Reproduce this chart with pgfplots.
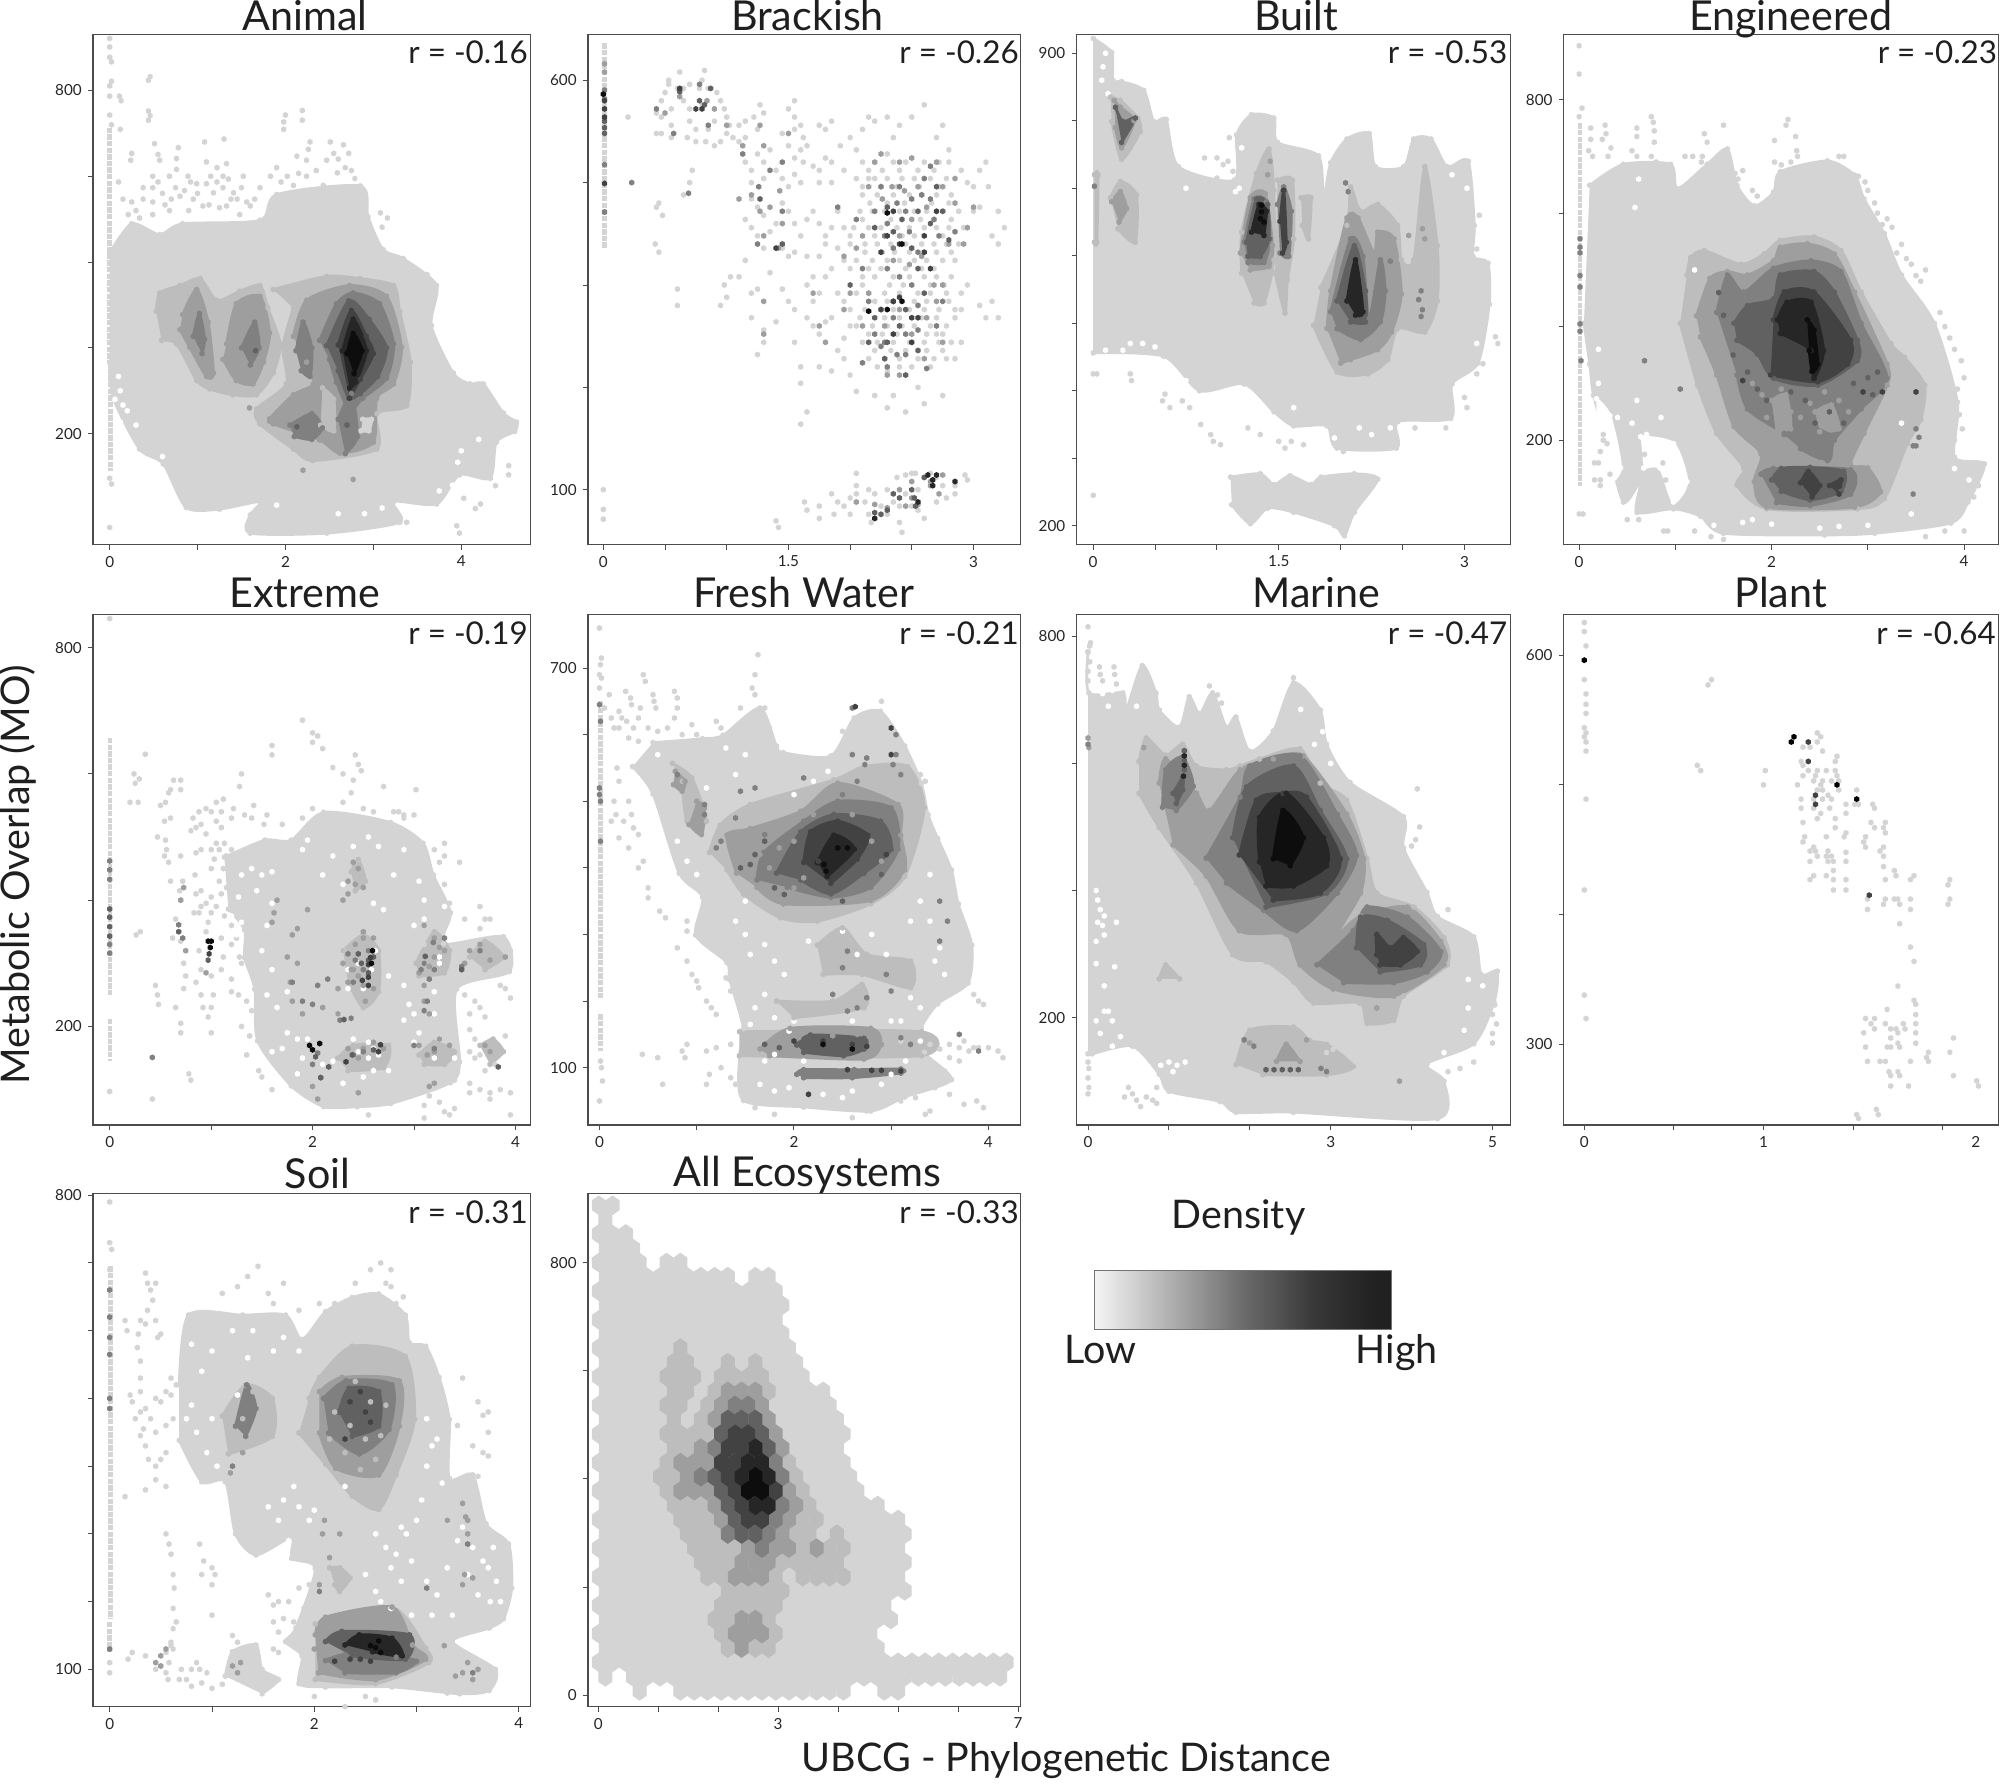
\documentclass[border=0pt]{standalone}
\usepackage{pgfplots}
\usepackage{fontspec}
\setmainfont{Lato}
\pgfplotsset{compat=1.18}
\definecolor{g1}{gray}{.83}
\definecolor{g2}{gray}{.74}
\definecolor{g3}{gray}{.62}
\definecolor{g4}{gray}{.50}
\definecolor{g5}{gray}{.38}
\definecolor{g6}{gray}{.26}
\definecolor{g7}{gray}{.15}
\definecolor{g8}{gray}{.05}
\definecolor{c0}{gray}{.96}
\definecolor{c1}{gray}{.64}
\definecolor{c2}{gray}{.42}
\definecolor{c3}{gray}{.22}
\definecolor{c4}{gray}{.13}
\pgfdeclarehorizontalshading{densbar}{100bp}{color(0bp)=(c0);color(25bp)=(c0);color(40bp)=(c1);color(50bp)=(c2);color(62bp)=(c3);color(72bp)=(c4);color(100bp)=(c4)}
\pgfdeclareplotmark{hex}{\pgfpathmoveto{\pgfqpoint{0pt}{1.15\pgfplotmarksize}}\pgfpathlineto{\pgfqpoint{\pgfplotmarksize}{.58\pgfplotmarksize}}\pgfpathlineto{\pgfqpoint{\pgfplotmarksize}{-.58\pgfplotmarksize}}\pgfpathlineto{\pgfqpoint{0pt}{-1.15\pgfplotmarksize}}\pgfpathlineto{\pgfqpoint{-\pgfplotmarksize}{-.58\pgfplotmarksize}}\pgfpathlineto{\pgfqpoint{-\pgfplotmarksize}{.58\pgfplotmarksize}}\pgfpathclose\pgfusepathqfill}
\pgfdeclareplotmark{hexb}{\pgfpathmoveto{\pgfqpoint{0pt}{1.4\pgfplotmarksize}}\pgfpathlineto{\pgfqpoint{\pgfplotmarksize}{.7\pgfplotmarksize}}\pgfpathlineto{\pgfqpoint{\pgfplotmarksize}{-.7\pgfplotmarksize}}\pgfpathlineto{\pgfqpoint{0pt}{-1.4\pgfplotmarksize}}\pgfpathlineto{\pgfqpoint{-\pgfplotmarksize}{-.7\pgfplotmarksize}}\pgfpathlineto{\pgfqpoint{-\pgfplotmarksize}{.7\pgfplotmarksize}}\pgfpathclose\pgfusepathqfill}
% blob: filled contour whose outline cells are hexagons; pts: single cells; stem: run of touching cells
\newcommand{\blob}[2]{\addplot[fill=#1,draw=#1,line width=1.5pt,line join=round,smooth,tension=.45,mark=none,forget plot] coordinates {#2};\addplot[only marks,mark=hex,color=#1,forget plot] coordinates {#2};}
\newcommand{\pts}[2]{\addplot[only marks,mark=hex,color=#1,forget plot] coordinates {#2};}
\newcommand{\ptb}[2]{\addplot[only marks,mark=hexb,color=#1,forget plot] coordinates {#2};}
\newcommand{\stem}[1]{\addplot[g1,line width=2.5pt,dash pattern=on 3pt off .7pt,mark=none,forget plot] coordinates {#1};}
\pgfplotsset{
  panel/.style={scale only axis,height=100mm,axis line style={draw=black!70,line width=.7pt},
    tick style={draw=black!70,line width=.5pt},major tick length=2.8pt,tick align=outside,
    xtick pos=left,ytick pos=left,minor tick num=0,
    tick label style={font=\fontsize{8.5}{10}\selectfont,text=black!85},
    /pgf/number format/assume math mode=true,anchor=south west,axis on top,
    every axis plot/.append style={mark size=1.45pt}}
}
\tikzset{ttl/.style={anchor=base,inner sep=0pt,font=\fontsize{23}{26}\selectfont,text=black!88},
 rl/.style={anchor=base east,inner sep=0pt,font=\fontsize{17.5}{21}\selectfont,text=black!88},
 big/.style={font=\fontsize{22}{25}\selectfont,text=black!88}}
\begin{document}
\begin{tikzpicture}[x=.25mm,y=.25mm]
\path[use as bounding box] (0,0) rectangle (1568,1398);
%% Animal
\begin{axis}[panel,at={(18.25mm,242.75mm)},width=85.75mm,xmin=-.189,xmax=4.79,ymin=6,ymax=898,
 xtick={0,1,2,3,4},xticklabels={0,,2,,4},ytick={200,350,500,650,800},yticklabels={200,,,,800}]
\stem{(0,735)(0,325)} \stem{(0.01,325)(0.01,135)}
\blob{g1}{(0,516)(.25,567)(.57,548)(.83,567)(1.71,573)(1.9,618)(2.85,633)(2.94,579)(3.11,522)(3.34,506)(3.72,459)(3.66,389)(3.91,306)(4.1,287)(4.25,287)(4.48,236)(4.63,220)(4.61,204)(4.4,185)(4.33,122)(3.98,128)(3.72,77)(3.23,81)(3.3,45)(2.47,26)(1.6,26)(1.6,58)(1.71,81)(1.25,68)(.87,71)(.61,147)(.34,173)(.04,262)(0,325)}
\pts{g1}{(0,891)(0,876)(0,858)(.02,850)(.02,816)(0,808)(0,790)(0,757)(.02,740)(.44,818)(.46,824)(.11,790)(.13,782)(.12,732)(.44,764)(.46,756)(.44,748)(1.08,710)(1.3,715)(2.19,765)(2.19,748)(2,757)(1.98,745)(1.98,732)(.25,690)(.24,678)(.51,707)(.55,688)(.57,678)(.78,700)(.76,681)(.76,662)(1.1,675)(1.22,665)(1.33,672)(1.29,650)(1.1,637)(.89,650)(.99,637)(.68,650)(.49,650)(.38,630)(.49,630)(.38,610)(.49,605)(.25,605)(.21,583)(.34,577)(.49,583)(.68,590)(.8,615)(.95,610)(1.06,598)(1.18,621)(1.29,630)(1.41,621)(1.52,650)(1.33,598)(1.48,583)(1.71,630)(1.6,598)(1.83,650)(2.02,650)(2.09,634)(2.24,678)(2.28,710)(2.26,697)(2.13,685)(2.24,650)(2.43,634)(2.51,710)(2.55,690)(2.66,705)(2.72,690)(2.47,678)(2.59,656)(2.79,646)(3.08,586)(3.16,577)(3.1,561)(3.61,478)(.1,640)(.15,610)(.3,590)(.6,620)(.7,610)(.9,590)(1.15,650)(1.35,645)(1.45,610)(4.54,144)(4.54,128)(4.16,69)(4.22,77)(3.95,39)(3.98,26)(3.38,45)(4.03,87)(4.39,109)(0,122)(.02,112)(0,36)(.55,640)(.63,600)(.75,630)(.85,625)(.92,640)(1.0,620)(1.13,600)(1.22,640)(1.25,595)(1.38,610)(1.5,630)(1.56,605)(1.65,610)(1.9,665)(1.95,640)(2.15,655)(2.35,660)(2.6,680)(2.68,665)(2.75,660)}
\pts{white}{(.1,300)(.12,275)(.06,260)(.15,250)(.2,240)(.12,220)(.3,215)(.4,130)(.5,135)(.6,160)(3.9,110)(4.05,120)(4.0,170)(3.75,100)(4.2,190)(3.96,150)(1.6,70)(1.9,75)(2.6,60)(2.9,60)(3.1,70)}
\blob{g2}{(.53,414)(.57,446)(.8,459)(1.03,471)(1.22,433)(1.48,449)(1.71,459)(1.8,420)(1.94,357)(1.86,306)(1.67,268)(1.4,268)(1.14,278)(.99,293)(.76,357)(.59,363)}
\blob{g2}{(1.86,452)(2.47,475)(2.85,471)(3.23,459)(3.3,414)(3.42,325)(3.38,249)(3.04,235)(3.04,173)(2.31,153)(2.09,173)(1.71,217)(1.67,243)(2.01,287)(1.97,351)(2.09,420)}
\blob{g3}{(.83,408)(.99,452)(1.12,395)(1.18,306)(1.1,300)(.91,351)(.8,382)}
\blob{g3}{(1.33,357)(1.44,427)(1.71,440)(1.82,376)(1.75,325)(1.63,287)(1.44,293)(1.29,330)}
\blob{g3}{(2.09,370)(2.24,433)(2.73,459)(3.15,440)(3.32,351)(3.23,287)(3.04,262)(3,185)(2.62,166)(2.39,189)(1.86,217)(1.82,226)(2.09,268)(2.32,287)(2.24,325)}
\blob{g2}{(2.42,280)(2.55,260)(2.55,205)(2.4,215)}
\blob{g1}{(2.88,225)(2.98,225)(2.95,205)(2.86,205)}
\blob{g4}{(2.39,363)(2.58,427)(2.77,446)(3.07,427)(3.23,357)(3.15,297)(2.88,262)(2.73,240)(2.58,290)(2.5,330)}
\blob{g4}{(1.5,350)(1.65,395)(1.7,350)(1.6,320)}
\blob{g4}{(.95,370)(1.02,410)(1.08,365)(1.05,340)}
\blob{g4}{(2.12,345)(2.2,395)(2.3,350)(2.28,300)(2.18,310)}
\blob{g4}{(2.05,215)(2.3,235)(2.42,210)(2.3,190)(2.1,195)}
\blob{g4}{(2.6,225)(2.75,270)(2.82,195)(2.68,165)}
\blob{g5}{(2.47,354)(2.72,432)(2.95,400)(3.15,350)(3.05,300)(2.85,270)(2.72,262)(2.6,310)}
\blob{g6}{(2.6,355)(2.75,415)(2.92,370)(3,340)(2.85,295)(2.73,262)}
\blob{g7}{(2.65,345)(2.77,400)(2.92,345)(2.8,290)(2.73,280)}
\blob{g8}{(2.7,340)(2.77,375)(2.87,345)(2.78,305)}
\pts{g5}{(2.13,212)(2.7,215)(1.66,345)}
\pts{g3}{(2.2,136)(2.77,120)(1.59,245)}
\end{axis}
%% Brackish
\begin{axis}[panel,at={(115.25mm,242.75mm)},width=84.75mm,xmin=-.124,xmax=3.38,ymin=33,ymax=656,
 xtick={0,.5,1,1.5,2,2.5,3},xticklabels={0,,,1.5,,,3},ytick={100,225,350,475,600},yticklabels={100,,,,600}]
\stem{(.01,645)(.01,395)}
\pts{g1}{(0,100)(0,76)(0,64)(.53,595)(.5,585)(.47,575)(.55,565)(.47,555)(.43,560)(.55,545)(.47,535)(.43,535)(.55,530)(.2,555)(.53,600)(.62,610)(.6,590)(.82,612)(.8,600)(.65,590)(.7,595)(.78,590)(.85,590)(.92,585)(.95,575)(.65,575)(.7,565)(.8,570)(.9,565)(.98,565)(1.0,555)(.7,550)(.75,540)(.85,540)(.9,550)(1.0,535)(1.05,530)(1.02,545)(.68,530)(.75,525)(.83,525)(.9,520)(.95,525)(1.1,545)(1.1,525)(1.15,530)(1.25,540)(1.22,555)(1.15,550)(1.3,560)(1.27,570)(1.55,575)(1.5,565)(1.55,555)(1.6,545)(1.55,540)(1.62,530)(1.45,535)(1.5,520)(1.55,505)(1.62,500)(1.75,545)(1.85,550)(1.8,540)(1.65,520)(1.6,515)(1.35,515)(1.25,510)(1.3,500)(1.2,490)(1.15,500)(1.2,475)(1.3,480)(1.4,490)(1.45,480)(1.5,470)(1.55,485)(1.6,475)(1.7,495)(1.75,490)(1.8,505)(1.85,500)(1.75,475)(1.85,475)(1.95,490)(1.92,520)(2.0,530)(2.05,515)(2.1,540)(2.15,555)(2.2,550)(2.3,555)(2.4,545)(2.5,555)(2.6,570)(2.7,530)(2.8,515)(2.75,545)(2.8,500)(2.9,490)(2.95,475)(3.0,470)(3.05,445)(3.0,440)(3.1,500)(3.05,490)(3.12,470)(3.2,440)(3.25,420)(3.2,400)(3.15,410)(1.2,455)(1.25,445)(1.3,435)(1.15,430)(1.2,420)(1.25,410)(1.3,395)(1.35,415)(1.4,425)(1.45,450)(1.5,440)(1.55,425)(1.6,410)(1.65,430)(1.7,440)(1.75,425)(1.8,410)(1.55,390)(1.65,385)(1.75,385)(1.8,400)(1.9,440)(1.95,420)(1.85,420)(2.0,410)(1.9,395)(1.95,380)(2.0,370)(1.85,370)(1.8,360)(1.7,360)(1.65,350)(1.75,340)(1.7,330)(1.65,310)(1.7,300)(1.8,305)(1.75,290)(1.9,340)(1.95,330)(1.85,310)(2.0,300)(1.95,285)(1.9,270)(1.95,260)(1.75,250)(1.85,245)(2.0,240)(1.5,385)(1.45,395)(1.35,365)(1.25,345)(1.2,340)(1.15,380)(1.1,360)(1.2,310)(1.3,280)(1.25,265)(1.3,295)(1.4,305)(1.5,330)(1.45,345)(1.55,320)(1.55,280)(1.6,250)(1.6,230)(2.05,220)(2.2,215)(2.3,200)(2.35,215)(2.45,195)(2.55,225)(2.6,205)(2.75,215)(2.85,260)(2.9,280)(2.75,290)(2.85,310)(2.95,350)(2.9,320)(3.05,325)(3.15,330)(3.2,310)(3.1,310)(2.4,250)(2.3,245)(.7,475)(.65,460)(.72,490)(.45,450)(.43,445)(.48,435)(.42,400)(.45,390)(.6,345)(.6,325)(.98,350)(1.0,335)(.95,325)(1.03,360)(2.2,480)(2.3,510)(2.35,530)(1.65,195)(1.6,180)}
\pts{g1}{(1.4,62)(1.42,54)(1.63,85)(1.65,75)(1.75,80)(1.75,65)(1.85,95)(1.9,85)(1.87,70)(1.95,80)(2.0,70)(2.0,90)(2.05,105)(2.05,95)(2.12,85)(2.15,70)(2.2,65)(2.2,95)(2.17,60)(2.3,70)(2.35,85)(2.4,80)(2.25,80)(2.3,100)(2.38,115)(2.45,95)(2.55,75)(2.6,65)(2.5,80)(2.55,100)(2.6,115)(2.65,120)(2.7,115)(2.75,105)(2.7,85)(2.78,90)(2.85,105)(2.85,95)(2.93,118)(2.95,112)(2.05,120)(2.15,100)(2.45,118)(2.4,60)(2.42,48)(2.5,120)(2.53,120)}
\pts{g1}{(2.1,500)(2.2,500)(2.35,500)(2.45,500)(2.6,500)(2.72,500)(2.05,480)(2.15,480)(2.3,480)(2.42,480)(2.52,480)(2.65,480)(2.78,480)(2.1,460)(2.22,460)(2.35,460)(2.48,460)(2.58,460)(2.7,460)(2.82,460)(2.08,440)(2.18,440)(2.28,440)(2.4,440)(2.52,440)(2.62,440)(2.75,440)(2.88,440)(2.03,420)(2.15,420)(2.25,420)(2.38,420)(2.48,420)(2.6,420)(2.7,420)(2.8,420)(2.92,420)(2,400)(2.12,400)(2.22,400)(2.33,400)(2.45,400)(2.58,400)(2.68,400)(2.78,400)(2.88,400)(2.05,380)(2.18,380)(2.3,380)(2.4,380)(2.52,380)(2.62,380)(2.75,380)(2.85,380)(2.1,360)(2.2,360)(2.35,360)(2.48,360)(2.6,360)(2.7,360)(2.82,360)(2.05,340)(2.15,340)(2.28,340)(2.4,340)(2.55,340)(2.65,340)(2.78,340)(2.9,340)(2,320)(2.12,320)(2.25,320)(2.35,320)(2.48,320)(2.6,320)(2.72,320)(2.85,320)(2.05,300)(2.18,300)(2.3,300)(2.42,300)(2.52,300)(2.65,300)(2.78,300)(2.1,280)(2.22,280)(2.35,280)(2.48,280)(2.6,280)(2.72,280)(2.82,280)(2.15,260)(2.28,260)(2.4,260)(2.55,260)(2.68,260)(2.78,260)(2.15,490)(2.26,490)(2.4,490)(2.55,490)(2.68,490)(2.1,470)(2.25,470)(2.38,470)(2.56,470)(2.72,470)(2.16,450)(2.3,450)(2.44,450)(2.66,450)(2.8,450)(2.1,430)(2.33,430)(2.57,430)(2.68,430)(2.82,430)(2.2,410)(2.28,410)(2.42,410)(2.52,410)(2.75,410)(2.12,390)(2.26,390)(2.36,390)(2.48,390)(2.7,390)(2.82,390)(2.15,370)(2.25,370)(2.45,370)(2.58,370)(2.68,370)(2.1,350)(2.32,350)(2.43,350)(2.65,350)(2.76,350)(2.2,330)(2.3,330)(2.52,330)(2.62,330)(2.8,330)(2.08,310)(2.28,310)(2.4,310)(2.58,310)(2.7,310)(2.15,290)(2.26,290)(2.38,290)(2.62,290)(2.7,290)(2.2,270)(2.33,270)(2.45,270)(2.62,270)(2.75,270)(2.22,250)(2.5,250)(2.65,250)}
\pts{g3}{(.01,620)(.01,610)(.62,580)(.5,560)(.84,575)(.9,565)(1.0,545)(1.13,520)(1.27,545)(1.3,520)(1.5,535)(1.1,455)(1.2,460)(1.27,440)(1.35,445)(1.3,410)(1.43,465)(1.45,425)(1.42,395)(1.95,385)(2.0,340)(2.05,395)(2.1,410)(2.15,470)(2.2,500)(2.25,510)(2.4,500)(2.5,505)(2.7,500)(2.75,470)(2.85,480)(2.85,450)(3,445)(2.95,420)(2.92,400)(2.8,400)(2.75,350)(2.7,330)(2.75,280)(2.15,340)(2.1,300)(2.6,260)(2.4,240)(2.3,240)(1.3,290)(1.3,330)(1.95,320)(1.7,340)(1.75,300)(1.8,280)(2.26,455)(2.34,470)(2.44,465)(2.55,470)(2.62,445)(2.4,410)(2.5,430)(2.35,380)(2.48,375)(2.58,385)(2.68,350)(2.28,300)(2.4,320)(2.5,290)(2.62,310)}
\pts{g4}{(.01,588)(.01,577)(.01,497)(.01,439)(.23,475)(.69,462)(.43,565)(.78,595)(.85,545)(.57,535)(1.13,510)(1.26,470)(1.35,490)(1.45,500)(1.45,440)(1.25,400)(1.9,445)(2.05,430)(2.2,440)(2.25,470)(2.3,425)(2.4,470)(2.5,455)(2.6,480)(2.65,495)(2.65,455)(2.72,410)(2.55,390)(2.45,440)(2.35,395)(2.3,370)(2.15,330)(2.2,290)(2.35,310)(2.45,290)(2.5,350)(2.55,325)(2.7,300)(2.75,330)(2.85,415)(2.3,250)(2.45,265)(2.62,248)(2.1,255)(2.25,275)(2.1,370)(2.28,410)(2.38,450)(2.48,415)(2.58,460)(2.68,430)(2.4,360)(2.28,280)(2.38,265)(2.55,295)}
\pts{g5}{(.01,550)(.01,542)(.01,535)(.62,586)(.78,575)(.82,570)(.87,590)(1.27,455)(1.45,400)(2.0,350)(2.2,420)(2.3,445)(2.35,415)(2.42,430)(2.55,440)(2.65,425)(2.7,470)(2.75,440)(2.8,405)(2.5,395)(2.55,370)(2.6,340)(2.45,320)(2.35,330)(2.2,310)(2.15,280)(2.3,280)(2.4,300)(2.55,270)(2.28,260)(2.45,240)}
\pts{g6}{(.01,575)(.01,565)(.01,555)(.01,474)(.62,590)(.75,565)(.8,565)(1.4,395)(2.3,410)(2.35,440)(2.4,400)(2.25,390)(2.6,390)(2.65,370)(2.7,440)(2.6,410)(2.5,310)(2.4,335)(2.25,320)(2.35,290)(2.5,280)(2.55,310)(2.35,330)}
\pts{g8}{(.0,583)(2.3,438)(2.3,320)(2.15,318)(2.42,400)(2.42,330)}
\pts{g3}{(2.05,85)(2.2,82)(2.3,78)(2.4,100)(2.5,90)(2.55,82)(2.65,105)(2.75,118)(2.65,110)(2.5,110)(2.45,80)(2.72,95)}
\pts{g5}{(2.2,72)(2.25,70)(2.3,75)(2.4,90)(2.35,95)(2.52,90)(2.5,100)(2.6,115)(2.53,80)}
\pts{g7}{(2.2,65)(2.55,85)(2.63,118)(2.7,118)(2.67,112)(2.67,105)(2.85,110)}
\end{axis}
%% Built
\begin{axis}[panel,at={(211mm,242.75mm)},width=85mm,xmin=-.134,xmax=3.37,ymin=172,ymax=928,
 xtick={0,.5,1,1.5,2,2.5,3},xticklabels={0,,,1.5,,,3},ytick={200,300,400,500,600,700,800,900},yticklabels={200,,,,,,,900}]
\blob{g1}{(0,922)(.15,901)(.16,860)(.23,858)(.41,845)(.49,799)(.59,802)(.69,732)(1.14,712)(1.16,779)(1.28,809)(1.46,804)(1.49,768)(1.82,748)(1.86,686)(1.92,738)(2.05,773)(2.23,781)(2.28,732)(2.51,732)(2.59,773)(2.73,773)(2.86,732)(3.03,740)(3.08,645)(3.07,599)(3.19,589)(3.2,528)(3.11,441)(2.9,410)(2.89,359)(2.46,354)(2.45,315)(1.97,315)(1.89,348)(1.62,348)(1.46,369)(1.22,410)(.86,400)(.57,451)(0,456)}
\blob{g1}{(1.11,272)(1.35,277)(1.46,261)(1.59,274)(1.76,261)(1.84,272)(2.11,277)(2.3,269)(2.11,220)(2.03,185)(1.95,200)(1.62,220)(1.41,226)(1.27,203)(1.12,231)}
\pts{g1}{(0,425)(.03,425)(.3,425)(.31,415)(.58,395)(.56,385)(.62,375)(.72,385)(.78,375)(.87,350)(.95,335)(.97,325)(1.03,320)(1.25,345)(1.35,335)(1.5,325)(1.55,315)(1.6,325)(1.7,320)(2.02,310)(2.6,345)(2.85,345)(3,390)(3.02,375)(3.1,425)(3.25,480)(3.27,470)(3.15,440)(3.05,620)(3.1,610)(3.05,660)(3.12,660)(.75,720)(.9,745)(1.0,745)(1.05,735)(1.0,715)(1.09,740)(1.13,725)(1.1,775)(0,245)}
\pts{white}{(.07,860)(.08,880)(.1,900)(.12,840)(.2,440)(.24,460)(.3,470)(.4,470)(.5,465)(.1,460)(.75,415)(.65,430)(1.2,760)(.75,700)(1.18,700)(1.15,695)(1.62,375)(1.95,330)(2.15,345)(2.25,335)(2.4,345)(3.1,470)(3.02,700)(2.9,720)}
\blob{g2}{(1.2,574)(1.2,635)(1.32,722)(1.42,758)(1.46,697)(1.46,594)(1.38,530)(1.3,530)}
\blob{g2}{(1.49,712)(1.61,712)(1.62,625)(1.57,564)(1.55,515)(1.47,574)}
\blob{g2}{(1.68,686)(1.76,686)(1.74,625)(1.69,645)}
\blob{g2}{(1.84,553)(2.05,645)(2.08,702)(2.16,666)(2.3,676)(2.46,645)(2.49,594)(2.59,594)(2.68,732)(2.78,615)(2.78,533)(2.68,487)(2.46,492)(2.38,446)(2.22,425)(1.97,428)(1.78,497)}
\blob{g2}{(.14,835)(.22,830)(.36,804)(.38,784)(.23,743)(.15,799)}
\blob{g2}{(.14,686)(.22,710)(.35,690)(.34,620)(.2,640)}
\blob{g2}{(.01,720)(.04,720)(.03,620)(.01,620)}
\blob{g3}{(1.19,604)(1.27,686)(1.39,692)(1.45,615)(1.42,584)(1.27,579)}
\blob{g3}{(1.89,492)(1.92,548)(2.05,656)(2.14,656)(2.27,604)(2.3,635)(2.43,625)(2.49,543)(2.41,487)(2.3,461)(2.08,446)(2,441)}
\blob{g3}{(.17,830)(.22,820)(.33,800)(.23,760)(.18,790)}
\blob{g3}{(.15,680)(.22,695)(.27,670)(.21,650)}
\blob{g4}{(1.49,676)(1.54,702)(1.6,666)(1.58,599)(1.51,604)}
\blob{g4}{(1.92,517)(2.08,625)(2.18,599)(2.23,507)(2.32,594)(2.36,548)(2.32,502)(2.16,476)(1.97,492)}
\blob{g4}{(1.22,620)(1.3,684)(1.4,680)(1.43,625)(1.38,590)(1.25,590)}
\blob{g5}{(1.24,620)(1.32,684)(1.41,676)(1.42,625)(1.35,599)(1.25,599)}
\blob{g5}{(1.97,533)(2.11,615)(2.2,548)(2.2,502)(2.08,502)}
\blob{g5}{(.18,820)(.24,799)(.34,804)(.23,768)}
\blob{g6}{(1.51,651)(1.54,697)(1.56,620)(1.53,604)}
\blob{g7}{(1.28,635)(1.34,676)(1.4,666)(1.38,630)}
\blob{g7}{(2.05,533)(2.12,594)(2.18,517)(2.12,512)}
\pts{g8}{(1.36,675)(1.36,665)(1.38,650)(1.35,655)}
\pts{g4}{(2.65,548)(2.63,535)(2.66,520)(2.65,510)(2.06,695)(2.04,708)(2.4,592)(.01,703)}
\pts{g3}{(2.68,625)(2.66,640)(2.55,630)(1.43,740)(1.41,720)}
\end{axis}
%% Engineered
\begin{axis}[panel,at={(306.5mm,242.75mm)},width=85.25mm,xmin=-.159,xmax=4.36,ymin=16,ymax=915,
 xtick={0,1,2,3,4},xticklabels={0,,2,,4},ytick={200,400,600,800},yticklabels={200,,,800}]
\stem{(.01,758)(.01,120)}
\blob{g1}{(.11,649)(.46,686)(.95,686)(1.02,643)(1.33,686)(1.54,713)(1.64,649)(1.82,613)(2.02,637)(2.09,673)(2.58,692)(2.86,667)(2.96,625)(3.17,564)(3.35,491)(3.69,406)(3.93,267)(3.9,170)(4.21,158)(4.04,91)(3.86,54)(3.07,36)(2.55,33)(1.5,36)(1.26,66)(.98,79)(.6,73)(.64,127)(.46,91)(.29,194)(.15,279)(.11,334)(.05,406)}
\pts{g1}{(0,895)(0,845)(.03,785)(0,770)(.12,750)(.12,730)(.27,755)(.28,740)(.24,730)(.6,750)(.6,735)(.75,770)(.77,760)(.78,745)(.78,725)(1.3,740)(1.33,725)(1.5,755)(1.1,700)(1.18,700)(1.28,700)(1.27,690)(.6,700)(.55,710)(.75,700)(.8,690)(.1,710)(.14,700)(.3,700)(.33,715)(2.17,765)(2.15,755)(2.03,728)(2.25,735)(2.26,710)(2.27,700)(2.03,690)(2.1,685)(2.2,690)(2.3,680)(1.62,670)(1.7,675)(1.65,660)(1.85,630)(1.8,640)(2.7,700)(2.65,685)(2.75,700)(2.9,665)(2.97,655)(3,640)(3.07,618)(3.1,600)(3.2,590)(3.15,580)(3.25,575)(3.3,530)(3.35,545)(3.4,520)(3.45,510)(3.5,490)(3.55,480)(3.6,500)(3.5,450)(3.55,440)(3.75,425)(3.8,400)(3.85,380)(3.9,360)(3.97,340)(4.0,310)(3.93,290)(3.95,245)(3.98,220)(3.9,200)(4.05,150)(4.15,120)(4.1,100)(.25,200)(.22,180)(.2,160)(.22,130)(.16,160)(.16,130)(.7,90)(.5,60)(.62,60)(.88,40)(.92,40)(1.2,40)(1.37,30)(1.5,25)(.0,70)(.04,70)(4.0,40)(3.8,40)(3.6,30)}
\pts{white}{(.58,610)(.62,660)(.2,360)(.2,300)(.2,240)(.4,240)(.55,230)(.85,240)(.35,180)(.7,210)(.72,175)(.6,270)(1.2,500)(3.35,230)(3.9,150)(4.05,130)(3.45,70)(3.0,50)(2.5,45)(1.7,55)(1.4,50)(1.8,60)(2.0,52)(2.7,48)}
\blob{white}{(.18,273)(.32,243)(.43,151)(.29,127)(.18,200)}
\blob{white}{(.64,206)(.98,194)(1.12,127)(.98,91)(.84,151)(.67,151)}
\pts{g1}{(.25,210)(.22,120)(.32,140)(.85,115)(.68,175)(.75,140)(.9,130)(.87,160)}
\blob{g2}{(1.12,491)(1.16,522)(1.3,534)(1.68,510)(1.92,528)(2.09,552)(2.44,558)(2.72,534)(2.93,461)(3.24,370)(3.38,346)(3.59,297)(3.55,236)(3.41,194)(3.17,97)(2.89,79)(1.95,79)(1.64,121)(1.71,151)(1.43,212)(1.23,297)(1.05,406)}
\blob{g3}{(1.22,419)(1.36,485)(1.54,497)(1.75,491)(2.02,516)(2.09,540)(2.37,546)(2.65,528)(2.86,461)(3.2,334)(3.2,297)(2.96,212)(2.82,157)(3,151)(3.13,109)(2.86,82)(1.95,82)(1.82,127)(1.89,176)(1.61,224)(1.43,315)(1.26,382)}
\blob{g4}{(1.43,425)(1.54,491)(1.71,461)(2.02,503)(2.41,516)(2.72,497)(2.93,406)(3.2,309)(2.93,255)(2.65,200)(2.58,164)(2.13,212)(1.75,255)(1.64,315)}
\blob{g3}{(2.0,270)(2.15,280)(2.2,220)(2.05,205)}
\blob{g3}{(2.45,250)(2.62,262)(2.7,220)(2.5,215)}
\blob{g5}{(1.61,406)(1.75,437)(2.02,449)(2.09,491)(2.44,497)(2.65,461)(2.89,376)(2.89,340)(2.48,297)(2.02,309)(1.85,352)(1.64,376)}
\blob{g6}{(2.02,412)(2.13,461)(2.44,461)(2.82,376)(2.79,334)(2.48,303)(1.99,315)}
\blob{g7}{(2.06,412)(2.16,443)(2.41,443)(2.54,358)(2.44,309)(2.41,358)(2.09,388)}
\blob{g8}{(2.37,412)(2.44,394)(2.48,334)(2.42,321)(2.39,358)}
\blob{g4}{(2.13,210)(2.35,225)(2.58,210)(2.5,170)(2.3,185)}
\blob{g4}{(1.89,140)(2.02,150)(2.82,148)(2.82,105)(2.4,85)(2.05,90)}
\blob{g5}{(2.0,130)(2.1,150)(2.4,152)(2.75,145)(2.72,110)(2.4,95)(2.1,110)}
\blob{g6}{(2.3,125)(2.38,145)(2.5,120)(2.42,100)}
\blob{g6}{(2.6,120)(2.72,130)(2.7,105)}
\pts{g2}{(3.35,280)(3.4,250)(3.5,300)}
\pts{g3}{(1.9,280)(1.95,240)(2.2,250)(2.3,240)(2.4,265)(2.7,270)(2.8,250)(2.9,230)(1.8,300)(2.1,290)(2.55,285)}
\pts{g5}{(1.75,320)(1.85,290)(1.95,270)(2.2,285)(2.35,270)(2.45,230)(2.6,250)(2.75,230)(2.85,300)(3.0,310)(3.1,320)(3.05,280)(1.6,350)(1.5,420)(1.45,460)}
\pts{g4}{(.01,555)(.01,540)(.01,530)(.01,490)(.01,470)(.01,405)(.01,392)(.02,340)(.68,340)(1.05,290)(3.5,190)(3.5,220)(3.53,205)(3.47,190)(3.47,105)}
\pts{g6}{(3.5,285)(3.15,285)(2.95,285)(2.1,340)(1.7,305)}
\end{axis}
%% Extreme
\begin{axis}[panel,at={(18.25mm,129mm)},width=85.75mm,xmin=-.164,xmax=4.15,ymin=44,ymax=852,
 xtick={0,1,2,3,4},xticklabels={0,,2,,4},ytick={200,400,600,800},yticklabels={200,,,800}]
\stem{(0,657)(0,250)} \stem{(0,212)(0,145)}
\pts{g1}{(0,846)(0,97)(.35,631)(.24,600)(.29,592)(.25,585)(.7,590)(.63,590)(.7,575)(.6,575)(.28,555)(.2,555)(.55,555)(.58,570)(.5,550)(.6,530)(.54,525)(.55,495)(.54,470)(.47,500)(.7,470)(.56,480)(.58,460)(.6,430)(.72,430)(.69,415)(.7,400)(.9,480)(.85,475)(.84,440)(.85,410)(.9,415)(.9,390)(.83,380)(.88,380)(1.0,405)(.95,395)(1.0,380)(.97,365)(.65,370)(.62,340)(.7,335)(.73,300)(.75,280)(.73,260)(.88,320)(.9,290)(.85,270)(.9,250)(.92,230)(1.0,280)(1.02,250)(1,230)(.97,215)(.45,265)(.47,250)(.48,235)(.65,230)(.7,205)(.7,190)(.78,125)(.8,115)(.42,85)(1.3,300)(1.2,275)(1.2,255)(1.27,250)(1.35,240)(1.4,225)(1.3,200)(1.38,185)(.3,350)(.26,345)(1.3,600)(1.28,580)(1.6,645)(1.6,630)(1.9,685)(2.0,665)(2.05,660)(2.0,650)(2.1,640)(2.2,610)(2.3,600)(2.4,590)(2.38,570)(2.42,630)(2.45,615)(2.48,605)(2.3,555)(2.7,580)(3.02,575)(2.85,540)(2.9,535)(3.0,535)(3.3,470)(3.25,460)(3.3,425)(3.35,395)(3.35,380)(3.8,290)(3.85,265)(3.95,245)(3.9,260)(3.65,230)(3.7,215)(3.5,250)(3.6,240)(3.55,220)(3.55,195)(3.6,180)(3.9,185)(3.7,170)(3.75,160)(3.8,140)(3.65,155)(3.55,160)(3.55,110)(3.55,95)(3.75,95)(3.85,100)(3.95,95)(3.75,85)(3.65,100)(3.6,150)(3.7,130)(3.25,80)(3.3,65)(3.1,75)(3.15,90)(3.1,55)(3.4,70)(3.35,60)(3.4,115)(2.8,100)(2.55,60)(2.6,90)(3.95,60)(1.35,155)(1.5,120)(1.6,100)(1.47,130)(3.75,370)(3.65,390)(3.7,370)(3.95,320)(3.5,370)(3.65,355)(1.0,190)(3.1,330)(3.15,130)(.82,530)(.88,540)(.95,545)(1.05,555)(1.12,560)(1.22,545)(1.33,535)(1.42,550)(1.52,520)(1.15,470)(1.08,480)(1.2,480)(1.12,450)(1.2,440)(1.15,420)(1.22,395)(.95,350)(1.1,290)(1.12,310)}
\blob{g1}{(1.13,468)(1.53,495)(1.79,495)(2.11,539)(2.77,523)(3.09,490)(3.19,440)(3.36,380)(3.29,331)(3.88,342)(3.94,287)(3.42,259)(3.45,144)(3.36,111)(2.77,78)(2.44,73)(2.11,73)(1.79,106)(1.46,177)(1.43,259)(1.33,309)(1.33,353)(1.17,386)}
\pts{g1}{(.8,510)(.85,515)(.9,520)(.95,505)(1.1,515)(1.05,525)(1.0,540)(1.1,540)(1.2,530)(1.13,490)(1.05,490)(1,480)(1.7,520)(1.55,535)(1.4,530)(1.9,530)(2.0,545)(2.5,545)(2.6,540)(2.8,540)(2.9,530)(1.03,465)(1,450)(1.08,430)(1.1,410)(1.05,390)(1.13,375)(1.2,360)(1.1,340)(1.2,330)(1.28,310)(1.25,340)(3.45,460)(3.3,490)(3.2,480)}
\pts{white}{(1.3,440)(1.4,450)(1.5,440)(1.6,445)(1.27,405)(1.45,415)(1.6,395)(1.3,365)(1.2,375)(1.25,345)(1.55,360)(1.5,320)(1.6,290)(1.55,250)(1.65,230)(1.75,255)(1.75,190)(1.85,180)(1.95,180)(1.7,165)(1.6,160)(1.9,150)(2.1,140)(2.2,145)(1.85,125)(2.3,320)(2.1,440)(2.3,425)(2.45,465)(2.2,470)(2.6,395)(2.7,385)(2.8,440)(3,360)(3.1,400)(3.05,430)(2.9,480)(2.65,485)(2.55,500)(2.4,485)(1.9,480)(1.95,495)(2.35,260)(2.25,220)(2.4,180)(2.55,175)(2.6,165)(2.75,280)(2.9,265)(2.95,235)(3,220)(3.1,300)(3.2,255)(3.2,220)(3.05,190)(3.0,175)(2.9,210)(3.25,180)(3.4,150)(2.3,110)(2.5,120)(2.6,130)(2.75,130)(3.3,390)(3.1,370)(3.25,300)}
\blob{g2}{(2.3,320)(2.5,345)(2.65,320)(2.65,255)(2.5,230)(2.35,270)}
\blob{g2}{(3.02,300)(3.2,350)(3.35,320)(3.3,285)(3.05,280)}
\blob{g2}{(3.05,155)(3.2,175)(3.4,160)(3.3,140)(3.1,140)}
\blob{g2}{(2.25,150)(2.4,170)(2.75,170)(2.7,135)(2.35,130)}
\blob{g2}{(3.55,310)(3.7,335)(3.88,310)(3.7,290)}
\blob{g2}{(3.65,170)(3.78,180)(3.88,160)(3.75,140)}
\blob{g2}{(2.38,445)(2.45,465)(2.52,430)(2.42,415)}
\pts{white}{(2.45,300)(2.35,290)(2.58,290)(2.5,260)(2.62,320)(3.25,310)(2.45,160)(2.55,150)(2.65,155)(3.2,150)}
\pts{g3}{(2.45,450)(2.4,460)(2.5,420)(2.35,430)(2.42,425)(2.35,410)(2.3,400)(1.65,400)(1.62,380)(1.6,365)(1.95,385)(1.85,355)(1.8,345)(1.75,310)(1.85,300)(1.78,270)(3.1,360)(3.2,340)(3.25,325)(3.2,310)(3.3,320)(3.15,295)(3.1,265)(3.1,240)(3.05,285)(3.15,220)(3.13,155)(3.25,180)(3.2,160)(3.35,170)(3.05,170)(3.75,160)(3.7,170)(3.65,330)(3.55,320)(3.5,300)(3.75,305)(3.9,310)(3.15,105)(3.2,110)(2.45,95)(2.05,85)(2,105)(2.4,290)(2.6,340)(2.5,340)(1.8,240)(1.9,220)(2.1,230)(.7,400)(.73,420)(.75,320)(.95,285)(2.25,260)(2.25,220)}
\pts{g3}{(2.3,300)(2.38,290)(2.45,280)(2.35,270)(2.42,330)(2.5,265)(2.6,260)(2.5,350)(2.52,240)(2.6,175)(2.7,165)(2.5,165)(2.45,150)(2.35,165)}
\pts{g4}{(0,462)(0,448)(0,433)(0,330)(0,316)(.68,361)(.72,340)(.42,151)(2.35,315)(2.42,305)(2.5,290)(2.4,270)(2.55,320)(2.0,235)(1.9,240)(1.8,270)(2.05,265)(2.15,275)(3.1,300)(3.07,290)(3.2,290)(3.15,275)(3.3,340)(3.19,333)(3.47,295)(3.65,320)(3.2,165)(3.0,170)(2.5,160)(2.4,155)(2.27,210)(2.38,213)(3.13,240)(3.1,225)(2.08,119)(2.0,140)(2.05,158)}
\pts{g5}{(0,386)(0,373)(0,358)(0,343)(.68,350)(.97,305)(2.45,315)(2.48,300)(2.55,305)(2.6,310)(2.55,285)(2.31,211)(2.39,155)(2.6,163)(3.11,311)(3.83,136)(2.16,136)(2.03,152)(2.08,119)(3.47,290)}
\pts{g6}{(.98,315)(2.57,309)(2.55,298)(2.55,278)(2.49,273)(2.55,265)(2.33,144)(2.67,171)(2.65,160)}
\pts{g8}{(.99,325)(1.0,335)(.97,335)(2.0,163)(1.97,170)(2.07,173)(2.58,300)(2.59,320)}
\end{axis}
%% Fresh Water
\begin{axis}[panel,at={(115.25mm,129mm)},width=84.75mm,xmin=-.118,xmax=4.33,ymin=14,ymax=780,
 xtick={0,1,2,3,4},xticklabels={0,,2,,4},ytick={100,200,300,400,500,600,700},yticklabels={100,,,,,,700}]
\stem{(.01,650)(.01,205)} \stem{(.01,180)(.01,125)}
\pts{g1}{(0,760)(.02,715)(.01,705)(0,690)(.02,685)(0,670)(.01,110)(.02,100)(.03,80)(0,50)(.45,690)(.47,680)(.32,655)(.33,645)(.27,665)(.2,635)(.23,625)(.4,625)(.42,640)(.55,660)(.56,650)(.58,640)(.77,665)(.8,655)(.8,640)(.77,625)(.12,625)(.15,610)(.2,610)(.28,620)(.35,610)(.3,595)(.4,590)(.5,610)(.6,605)(.7,610)(.85,600)(.95,615)(1.0,600)(1.2,620)(1.25,610)(1.3,590)(1.45,640)(1.57,670)(1.63,720)(1.6,690)(1.6,660)(1.7,640)(1.75,610)(2.5,605)(2.55,590)(2.7,610)(2.75,620)(2.6,640)(2.9,650)(2.85,620)(3.0,600)(3.1,570)(3.3,540)(3.35,530)(.18,550)(.2,530)(.15,500)(.17,480)(.25,470)(.3,500)(.33,480)(.4,450)(.35,460)(.3,430)(.2,445)(.12,470)(.4,400)(.45,410)(.5,370)(.5,355)(.62,335)(.68,325)(.9,320)(.9,305)(.95,240)(1.0,230)(1.02,220)(1.1,200)(1.15,190)(1.2,180)(.8,280)(.9,260)(1.3,235)(1.35,215)(3.4,430)(3.5,400)(3.6,250)(3.9,200)(3.95,195)(3.85,210)(4.1,125)(4.15,115)(3.8,125)(3.7,130)(3.85,130)(3.6,115)(3.7,110)(1.35,135)(1.2,130)(1.1,125)(.9,135)(.85,125)(.88,115)(.6,115)(.44,120)(.65,75)(1.1,75)(1.13,90)(1.25,100)(1.35,85)(1.4,75)(1.5,60)(1.6,40)(1.8,30)(3.25,55)(3.35,30)(3.4,35)(3.15,60)(3.6,60)(3.75,45)(3.88,50)(3.95,40)(2.6,25)(2.75,35)(3.1,50)(3.1,140)(3.35,80)(3.45,70)(3.55,95)}
\blob{g1}{(.55,588)(1.06,594)(1.27,599)(1.65,640)(1.82,583)(1.89,573)(2.38,568)(2.62,625)(2.89,635)(3.14,583)(3.31,527)(3.38,480)(3.48,444)(3.62,397)(3.69,346)(3.83,284)(3.79,227)(3.48,196)(3.31,159)(3.34,123)(3.62,82)(3.14,56)(2.79,35)(2.1,41)(1.48,51)(1.44,118)(1.48,159)(1.34,232)(1.31,258)(.99,299)(1.06,356)(.82,392)(.55,511)(.34,552)}
\pts{g1}{(3.4,135)(3.6,135)(3.75,140)(3.9,130)(4.0,130)(3.5,128)(.1,660)(.05,640)}
\pts{white}{(.6,570)(1.3,580)(1.5,570)(1.4,540)(1.1,520)(.8,440)(.9,410)(1.0,390)(1.5,350)(1.5,300)(1.7,285)(1.4,320)(1.55,270)(1.8,260)(1.9,240)(1.7,210)(1.6,190)(1.55,165)(1.8,175)(2.0,170)(1.95,155)(2.15,290)(2.5,305)(2.8,300)(2.65,270)(2.95,270)(3.2,320)(3.4,390)(3.3,350)(3.4,320)(3.5,280)(3.45,260)(3.55,240)(3.0,170)(3.1,170)(3.3,190)(3.2,205)(3.3,140)(3.15,110)(3.0,90)(2.9,75)(1.7,110)(1.65,75)(1.8,65)(1.95,70)(2.3,60)(2.5,55)(2.6,65)(1.8,120)(2.1,110)(2.6,170)(2.2,530)(2.35,545)(2.0,510)}
\blob{g2}{(1.13,423)(1.24,464)(1.55,495)(2.41,532)(2.72,552)(3.17,552)(3.34,490)(3.14,387)(2.79,346)(2.24,320)(1.86,325)(1.48,361)(1.31,397)}
\blob{g2}{(.75,557)(.95,535)(1.1,470)(.9,470)(.85,530)}
\blob{g2}{(2.24,284)(2.5,310)(2.75,270)(3.2,260)(3.2,220)(2.7,240)(2.3,240)}
\blob{g2}{(1.82,200)(2.4,200)(2.7,225)(2.72,190)(2.0,175)}
\blob{g2}{(1.44,154)(3.31,154)(3.31,118)(1.44,118)}
\blob{g3}{(1.41,392)(1.31,449)(1.55,459)(2.07,485)(2.45,527)(3.07,495)(3.1,449)(3.14,397)(2.79,351)(1.89,346)(1.62,371)}
\blob{g3}{(1.65,128)(1.96,159)(2.79,159)(2.89,134)(2.72,113)(1.75,118)}
\blob{g3}{(.78,545)(.88,530)(.85,515)(.76,525)}
\blob{g3}{(1.0,500)(1.08,490)(1.05,450)(.92,465)}
\blob{g4}{(1.62,382)(1.69,423)(2.1,470)(2.45,500)(3,490)(3.07,428)(2.79,371)(2.38,356)(1.93,371)}
\blob{g5}{(1.82,392)(2.07,454)(2.41,480)(2.89,470)(3,428)(2.72,392)(2.38,361)(2.07,382)}
\blob{g5}{(2.03,134)(2.17,149)(2.72,144)(2.72,128)(2.51,118)(2.1,123)}
\blob{g4}{(2.03,90)(2.1,97)(2.62,97)(3.1,98)(3.1,92)(2.6,85)(2.1,85)}
\blob{g6}{(2.1,408)(2.17,454)(2.45,470)(2.76,449)(2.65,413)(2.38,377)}
\blob{g7}{(2.24,408)(2.41,449)(2.62,428)(2.34,387)}
\pts{g3}{(1.75,400)(1.85,430)(2.0,440)(2.2,480)(2.6,480)(2.8,440)(2.9,410)(2.1,385)(2.0,370)(1.65,420)(1.55,440)(1.45,420)(2.05,145)(2.4,148)(2.65,150)(1.8,140)(2.9,135)}
\pts{g5}{(1.6,420)(1.7,440)(1.55,405)(1.45,400)(1.8,370)(1.9,360)(2.0,400)(2.95,450)(2.9,390)(2.5,350)(1.7,135)(1.85,130)}
\pts{g4}{(0,645)(0,520)(0,510)(.01,620)(.01,500)(.01,440)(.8,540)(1.08,480)(1.08,495)(1.25,440)(1.2,430)(1.4,475)(1.7,450)(2.6,570)(2.6,640)(3.05,600)(3.05,570)(3.1,540)(3.02,555)(2.73,555)(2.75,565)(2.65,530)(2.5,510)(2.1,535)(1.6,520)(1.45,515)(3.5,350)(3.58,320)(3.5,290)(3.7,150)(3.9,125)(2.5,250)(2.55,275)(2.95,240)(3.0,215)(2.4,210)(2.75,205)(2.55,185)(2.65,190)(3.2,135)(3.1,145)}
\pts{g6}{(2.63,642)(3.0,610)(3.0,570)(2.2,455)(2.25,410)(2.95,420)(3.1,95)(2.0,140)(2.3,140)(2.6,135)(2.75,132)(2.55,97)(2.8,96)(2.9,96)(2.15,60)}
\pts{g8}{(2.31,405)(2.33,395)(2.55,430)(2.45,430)(2.3,135)(2.6,128)}
\end{axis}
%% Marine
\begin{axis}[panel,at={(211mm,129mm)},width=85mm,xmin=-.142,xmax=5.22,ymin=31,ymax=834,
 xtick={0,1,2,3,4,5},xticklabels={0,,,3,,5},ytick={200,400,600,800},yticklabels={200,,,800}]
\pts{g1}{(0,815)(.02,785)(.03,790)(.0,775)(.02,760)(.0,745)(.0,730)(.14,752)(.15,740)(.18,730)(.32,752)(.33,740)(.35,725)(1.5,722)(1.6,708)(1.65,695)(2.54,735)(.0,130)(.01,120)(0,105)(.01,90)(0,80)(.5,90)(.55,80)(.6,70)(.45,75)(.72,75)(.8,70)(.85,90)(.65,60)(.85,65)(5.0,175)(5.0,160)(5.03,220)(5.0,205)(5.05,190)(4.77,130)(4.6,120)(4.45,115)(3.0,165)(3.03,150)(3.16,170)(2.95,145)(4.07,560)(4.1,395)(4.45,370)(4.1,500)(4.0,470)(4.05,480)}
\blob{g1}{(0,776)(.01,711)(.43,711)(.47,684)(.67,754)(.84,711)(.88,684)(1.13,657)(1.25,705)(1.38,678)(1.54,711)(1.71,657)(1.83,673)(2,619)(2.29,651)(2.54,727)(2.87,684)(2.95,630)(3.24,570)(3.9,516)(3.9,467)(4.19,397)(4.32,359)(4.77,327)(4.86,268)(5.06,273)(5.02,224)(4.77,159)(4.19,127)(4.4,100)(4.32,41)(2.54,51)(1.83,51)(1.63,68)(1,84)(.88,111)(.55,155)(.05,143)(0,143)}
\pts{white}{(.1,400)(.12,385)(.15,370)(.2,360)(.18,345)(.12,350)(.1,320)(.2,330)(.35,350)(.1,285)(.33,280)(.2,250)(.2,210)(.25,210)(.3,195)(.15,175)(.3,155)(.4,170)(.1,195)(1.0,130)(1.05,115)(1.1,125)(1.2,130)(.9,125)(4.7,260)(4.7,215)(4.65,180)(4.4,145)(4.1,590)(4.05,540)(4.2,510)(2.63,685)(2.8,630)(3.0,600)(2.9,650)(.18,710)(.3,715)(.25,690)(.6,690)(4.88,250)}
\blob{g2}{(.63,603)(.72,640)(.96,613)(1.17,630)(1.34,596)(1.71,590)(1.88,596)(2.12,607)(2.62,623)(2.87,569)(3.2,542)(3.45,450)(3.57,396)(4.03,374)(4.4,326)(4.44,283)(3.9,234)(3.78,196)(3.45,191)(3.36,223)(2.79,223)(2.54,256)(2.2,288)(1.79,299)(1.34,412)(.88,499)(.63,553)}
\blob{g2}{(.88,261)(.96,283)(1.13,261)}
\blob{g2}{(1.83,126)(2,180)(2.54,185)(2.74,164)(2.95,158)(3.28,123)(2.95,110)(2.16,110)}
\blob{g3}{(2.33,131)(2.45,158)(2.62,131)}
\blob{g3}{(.88,569)(.96,607)(1.34,553)(1.5,526)(1.88,590)(2.29,607)(2.66,612)(3.2,520)(3.41,450)(3.37,396)(3.08,331)(3.37,360)(3.95,374)(4.36,320)(4.4,283)(3.78,234)(3.03,245)(2.62,283)(2.45,331)(1.87,337)(1.46,423)(1.05,472)}
\blob{g4}{(1.46,451)(1.88,547)(2,596)(2.62,612)(3.08,520)(3.32,455)(3.08,396)(2.58,337)(2.17,369)(1.71,412)}
\blob{g4}{(2.83,283)(3.28,337)(3.45,374)(3.95,358)(4.36,304)(4.19,272)(3.78,255)(3.16,255)}
\blob{g4}{(.92,531)(.96,590)(1.17,610)(1.3,564)(1.09,526)}
\blob{g5}{(1.79,483)(1.96,563)(2.54,596)(2.87,526)(3.2,450)(2.95,396)(2.2,374)}
\blob{g5}{(3.32,310)(3.37,358)(3.7,353)(4.15,315)(4.11,283)(3.61,272)}
\blob{g5}{(1.05,553)(1.17,577)(1.17,558)(1.09,537)}
\blob{g6}{(1.87,456)(2.08,542)(2.41,553)(2.7,547)(3.12,450)(2.87,396)(2.29,385)}
\blob{g6}{(3.57,299)(3.57,331)(3.74,310)(3.9,326)(4.07,304)(3.86,283)(3.61,283)}
\blob{g7}{(2.12,445)(2.12,515)(2.45,553)(2.91,483)(2.95,439)(2.54,407)(2.2,407)}
\blob{g8}{(2.29,450)(2.41,526)(2.66,483)(2.5,439)}
\pts{g5}{(1.19,620)(1.19,605)(1.19,590)(2.2,118)(2.3,118)(2.4,118)(2.5,118)(2.6,118)}
\pts{g7}{(1.19,612)(1.19,597)(1.18,580)}
\pts{g3}{(0,640)(.01,625)(.69,625)(1.7,518)(3.57,215)(3.85,100)(1.93,165)(2.0,160)(2.7,165)}
\pts{g4}{(0,630)(1.93,165)(2.05,155)(2.88,120)(2.95,115)}
\end{axis}
%% Plant
\begin{axis}[panel,at={(306.5mm,129mm)},width=85.25mm,xmin=-.114,xmax=2.313,ymin=238,ymax=631,
 xtick={0,.5,1,1.5,2},xticklabels={0,,1,,},ytick={300,400,500,600},yticklabels={300,,,600}]
\pts{g1}{(0,625)(0,618)(.01,607)(0,581)(.01,570)(.01,562)(.01,555)(0,544)(.01,540)(0,537)(.01,533)(.01,526)(.01,489)(0,419)(0,338)(.01,320)(.71,581)(.69,577)(.63,515)(.65,511)(1.01,511)(1,500)(1.3,540)(1.32,537)(1.3,533)(1.22,529)(1.26,529)(1.33,526)(1.41,522)(1.4,518)(1.21,518)(1.22,515)(1.25,511)(1.3,511)(1.35,511)(1.4,511)(1.22,507)(1.29,507)(1.41,507)(1.28,503)(1.33,503)(1.38,503)(1.42,503)(1.19,500)(1.32,500)(1.3,496)(1.33,496)(1.42,496)(1.52,496)(1.21,489)(1.33,489)(1.36,492)(1.38,489)(1.21,482)(1.28,489)(1.28,482)(1.37,482)(1.46,485)(1.46,478)(1.51,485)(1.53,485)(1.61,485)(1.62,482)(1.32,478)(1.3,474)(1.4,474)(1.22,471)(1.4,467)(1.6,471)(1.62,467)(1.68,471)(1.67,467)(1.68,463)(1.46,463)(1.45,460)(1.23,460)(1.22,456)(1.35,460)(1.57,460)(1.56,456)(1.57,452)(1.28,452)(1.26,449)(1.29,449)(1.3,445)(1.26,441)(1.36,449)(1.35,445)(1.38,445)(1.36,441)(1.39,441)(1.46,448)(1.46,441)(1.67,452)(1.65,449)(1.67,445)(1.67,437)(1.73,434)(1.74,430)(1.28,430)(1.26,427)(1.35,430)(1.39,434)(1.39,427)(1.39,419)(1.46,427)(1.46,419)(1.68,427)(1.84,430)(1.82,427)(2.04,427)(2.03,423)(1.58,412)(1.58,404)(1.68,412)(1.67,408)(1.73,412)(1.75,412)(1.76,408)(1.82,412)(1.82,404)(2.04,412)(2.03,408)(1.76,393)(1.82,375)(1.84,364)(1.75,345)(1.84,334)(1.85,331)(1.69,327)(1.85,323)(1.57,320)(1.62,320)(1.6,316)(1.62,312)(1.68,316)(1.78,316)(1.79,312)(1.85,316)(1.71,312)(1.74,312)(1.75,309)(1.56,309)(1.85,309)(1.71,305)(2.06,305)(1.75,301)(1.85,301)(1.76,298)(1.57,298)(1.69,298)(1.71,298)(1.92,294)(2.04,294)(1.91,290)(1.92,287)(1.58,287)(1.65,287)(1.68,287)(1.82,287)(1.7,279)(1.71,276)(1.75,279)(1.76,276)(2.06,276)(1.71,268)(1.81,268)(2.19,272)(2.2,268)(1.52,246)(1.53,243)(1.63,250)(1.64,246)}
\pts{g6}{(1.25,533)(1.25,518)(1.29,492)(1.29,485)(1.59,415)}
\pts{black}{(0,596)(1.17,537)(1.155,533)(1.41,500)(1.52,489)}
\end{axis}
%% Soil
\begin{axis}[panel,at={(18.25mm,15mm)},width=85.75mm,height=100.5mm,xmin=-.162,xmax=4.115,ymin=45,ymax=802,
 xtick={0,1,2,3,4},xticklabels={0,,2,,4},ytick={100,200,300,400,500,600,700,800},yticklabels={100,,,,,,,800}]
\stem{(.01,695)(.01,175)} \stem{(0,170)(0,125)}
\pts{g1}{(0,790)(0,730)(.02,720)(0,690)(0,110)(0,95)(.35,685)(.37,670)(.4,660)(.45,670)(.42,645)(.37,630)(.35,610)(.3,615)(.45,615)(.15,615)(.17,600)(.28,595)(.47,590)(.5,595)(.27,575)(.3,555)(.3,530)(.3,510)(.45,500)(.5,495)(.6,530)(.65,520)(.6,505)(.55,510)(.62,470)(.55,460)(.45,450)(.35,430)(.38,410)(.3,480)(.35,485)(.4,470)(.33,455)(.2,505)(.22,495)(.25,470)(.3,445)(.45,400)(.5,410)(.55,420)(.45,380)(.55,370)(.35,365)(.15,355)(.55,300)(.58,285)(.6,270)(.62,240)(.63,220)(.62,190)(.65,170)(.62,160)(.6,140)(.62,130)(.88,285)(.92,260)(1.0,250)(1.03,240)(.9,240)(1.0,225)(1.0,180)(.22,125)(.18,115)(.35,120)(.45,100)(.5,105)(.58,110)(.6,135)(.55,125)(.7,100)(.75,85)(.8,100)(.85,110)(.68,85)(.8,75)(.9,80)(.88,100)(.95,95)(1.2,150)(1.25,140)(1.0,72)(1.1,78)(.55,95)(.57,85)(1.55,210)(1.6,195)(1.65,200)(1.6,170)(1.65,155)(1.6,130)(1.65,125)(1.9,190)(1.8,170)(1.75,200)(1.7,175)(2.0,210)(1.85,220)(1.95,225)(3.45,530)(3.6,495)(3.65,475)(3.7,480)(3.7,450)(3.55,430)(3.65,420)(3.7,415)(3.6,385)(3.4,460)(2.3,45)(2.0,60)(2.5,60)(2.6,55)(3.3,65)}
\blob{g1}{(.68,520)(.77,623)(1.3,623)(1.72,623)(1.88,587)(2.11,628)(2.37,649)(2.63,654)(2.89,623)(2.93,582)(3.09,577)(3.22,531)(3.32,469)(3.32,382)(3.55,387)(3.68,315)(3.9,285)(3.93,220)(3.85,175)(3.71,161)(3.35,141)(3.77,100)(3.71,69)(3.42,64)(2.76,74)(2.11,74)(1.85,79)(1.88,120)(1.72,141)(1.82,161)(2.01,249)(1.78,264)(1.78,295)(1.43,269)(1.23,300)(1.13,377)(.9,377)(.68,438)}
\blob{g1}{(1.13,90)(1.2,126)(1.43,136)(1.49,100)(1.65,85)(1.49,64)}
\pts{g1}{(1.1,655)(1.25,665)(1.45,695)(1.35,680)(1.6,640)(1.7,670)(1.55,655)(2.4,670)(2.55,690)(2.65,700)(2.7,670)(2.75,665)(2.8,640)(2.87,650)(2.2,640)(2.05,640)(1.85,630)(2.75,690)(2.9,600)}
\pts{white}{(.8,580)(.9,540)(1.0,570)(1.2,600)(1.35,560)(1.4,600)(1.6,570)(1.7,590)(1.85,570)(.75,470)(.8,490)(.85,450)(.95,420)(1.05,400)(1.0,470)(1.25,505)(1.55,340)(1.65,320)(1.7,350)(1.8,370)(1.85,340)(1.75,290)(1.95,320)(2.0,335)(2.3,370)(2.6,300)(2.7,280)(2.75,250)(2.8,270)(2.85,230)(2.65,200)(2.75,190)(2.6,215)(2.5,240)(2.95,180)(3.0,320)(3.05,350)(3.1,400)(3.15,430)(3.1,470)(3.2,440)(3.25,375)(3.45,310)(3.4,290)(3.3,250)(3.1,230)(3.15,180)(3.2,210)(3.35,180)(3.5,240)(3.55,280)(3.3,320)(2.9,300)(2.95,260)(2.85,310)(3.75,280)(3.7,250)(3.78,230)(3.72,200)(3.65,260)(3.6,210)(3.82,200)}
\blob{g2}{(1.1,474)(1.33,520)(1.59,500)(1.59,444)(1.16,418)}
\blob{g2}{(1.95,500)(2.05,531)(2.37,577)(2.89,562)(2.98,469)(2.8,387)(2.63,336)(2.37,356)(2.11,403)(1.85,449)}
\blob{g2}{(2.01,167)(2.76,192)(3.09,131)(3.12,110)(2.6,79)(2.01,85)}
\blob{g2}{(2.15,250)(2.25,250)(2.35,235)(2.25,215)(2.2,225)}
\blob{g3}{(2.05,510)(2.27,531)(2.83,526)(2.83,459)(2.63,387)(2.21,397)(2.05,449)}
\blob{g3}{(2.01,151)(2.11,177)(2.76,192)(2.96,136)(3.09,115)(2.6,85)(2.04,95)}
\blob{g4}{(2.09,500)(2.31,526)(2.76,520)(2.73,454)(2.44,418)(2.14,449)}
\blob{g4}{(1.23,459)(1.34,520)(1.43,485)(1.33,444)}
\blob{g4}{(2.11,113)(2.3,122)(2.8,118)(3,112)(2.8,95)(2.3,95)}
\blob{g5}{(2.24,480)(2.34,515)(2.63,510)(2.63,459)(2.37,444)}
\blob{g5}{(2.11,141)(2.27,156)(2.93,151)(2.89,115)(2.37,120)}
\blob{g7}{(2.3,136)(2.44,151)(2.76,146)(2.86,120)(2.57,126)}
\pts{g2}{(2.2,480)(2.4,525)(2.55,495)(2.7,490)(2.35,460)(2.65,445)(2.15,440)(2.3,420)(2.5,440)(2.45,395)(2.6,410)(1.3,470)(1.45,460)(1.5,490)(1.4,510)}
\pts{g3}{(.5,120)(.55,130)(.5,105)(.45,110)(1.2,105)(1.25,95)(1.28,110)(3.5,300)(3.48,325)(3.45,345)(3.5,320)(3.47,240)(3.45,225)(3.55,235)(3.3,320)(3.6,100)(3.45,95)(3.55,85)(3.5,110)(3.38,90)(3.27,135)(2.0,130)(2.15,265)(2.1,320)(2.08,300)(2.05,225)(2.25,300)(1.18,390)(1.3,420)}
\pts{g4}{(0,660)(0,620)(0,590)(0,565)(0,500)(0,485)(0,130)(1.2,400)(2.05,215)(3.55,95)(3.5,285)(3.1,220)}
\pts{g6}{(2.35,495)(2.5,480)(2.45,510)(2.3,440)(2.55,465)(2.2,112)(2.35,115)(2.55,112)(2.45,115)}
\pts{g8}{(2.6,132)(2.55,135)(2.63,142)(2.65,125)}
\end{axis}
%% All Ecosystems
\begin{axis}[panel,at={(115.25mm,15mm)},width=84.75mm,height=100.5mm,xmin=-.17,xmax=7.04,ymin=-21,ymax=927,
 xtick={0,1,2,3,4,5,6,7},xticklabels={0,,,3,,,,7},ytick={0,200,400,600,800},yticklabels={0,,,,800},
 every axis plot/.append style={mark size=3.9pt}]
\addplot[fill=g1,draw=none,mark=none,forget plot] coordinates {(.01,906)(.24,906)(.12,879)(.46,853)(.58,826)(.69,800)(.8,774)(1.14,800)(1.37,800)(1.48,774)(1.71,774)(2.16,774)(2.28,747)(2.62,774)(2.84,774)(2.96,747)(3.07,721)(2.96,694)(3.07,668)(3.18,642)(3.3,615)(3.41,589)(3.75,562)(3.86,536)(3.98,510)(4.09,483)(3.98,457)(4.09,430)(4.2,404)(4.32,378)(4.66,351)(5,325)(5.11,298)(5,272)(5.11,246)(5,219)(5.11,193)(4.77,166)(4.88,140)(4.54,114)(4.66,87)(4.77,61)(6.81,61)(6.7,34)(5.23,34)(5,8)(4.77,8)(4.43,34)(4.09,8)(1.37,8)(1.26,34)(1.03,34)(.8,34)(.69,8)(.58,34)(.46,61)(.24,61)(.12,34)(.01,61)(.01,114)(.01,166)(.01,219)(.01,272)(.01,325)(.01,378)(.01,430)(.01,483)(.01,536)(.01,589)(.01,642)(.01,694)(.01,747)(.01,800)(.01,853)};
\ptb{g1}{(.01,906)(.24,906)(.12,879)(.01,853)(.46,853)(.58,826)(.69,800)(.01,800)(.8,774)(1.14,800)(1.37,800)(1.48,774)(1.71,774)(1.94,774)(2.16,774)(2.28,747)(2.62,774)(2.84,774)(2.96,747)(3.07,721)(2.96,694)(3.07,668)(3.18,642)(3.3,615)(3.41,589)(3.52,562)(3.75,562)(3.86,536)(3.98,510)(4.09,483)(3.98,457)(4.09,430)(4.2,404)(4.32,378)(4.43,351)(4.66,351)(4.77,325)(5,325)(5.11,298)(5,272)(5.11,246)(5,219)(5.11,193)(4.77,166)(4.88,140)(4.54,114)(4.66,87)(4.77,61)(6.81,61)(6.59,61)(6.36,61)(6.13,61)(5.91,61)(5.68,61)(5.45,61)(5.23,61)(5,61)(6.7,34)(6.47,34)(6.25,34)(6.02,34)(5.79,34)(5.56,34)(5.34,34)(5.11,34)(5,8)(4.77,8)(4.66,34)(4.43,34)(4.09,8)(3.86,8)(3.64,8)(3.41,8)(3.18,8)(2.96,8)(2.73,8)(2.5,8)(2.28,8)(2.05,8)(1.82,8)(1.6,8)(1.37,8)(1.26,34)(1.03,34)(.8,34)(.69,8)(.58,34)(.46,61)(.24,61)(.12,34)(.01,61)(.01,114)(.01,166)(.01,219)(.01,272)(.01,325)(.01,378)(.01,430)(.01,483)(.01,536)(.01,589)(.01,642)(.01,694)(.01,747)}
\ptb{g2}{(1.37,642)(1.26,615)(1.48,615)(2.16,615)(2.62,615)(1.14,589)(1.37,589)(1.6,589)(2.05,589)(2.28,589)(2.5,589)(2.73,589)(1.26,562)(1.48,562)(1.94,562)(2.84,562)(1.14,536)(1.37,536)(1.82,536)(1.26,510)(1.71,510)(1.14,483)(1.37,483)(1.6,483)(1.82,483)(1.26,457)(1.48,457)(1.14,430)(3.18,430)(1.03,404)(1.26,404)(3.3,404)(1.14,378)(3.41,378)(1.26,351)(1.48,351)(1.71,351)(3.52,351)(1.37,325)(1.6,325)(1.82,325)(3.41,325)(3.64,325)(1.48,298)(1.71,298)(1.94,298)(3.3,298)(3.52,298)(3.98,298)(1.6,272)(1.82,272)(2.05,272)(2.28,272)(3.41,272)(3.86,272)(4.09,272)(1.71,246)(1.94,246)(2.16,246)(3.07,246)(3.3,246)(3.52,246)(3.75,246)(3.98,246)(1.82,219)(2.05,219)(2.96,219)(3.41,219)(3.64,219)(3.86,219)(4.09,219)(2.16,193)(2.39,193)(2.62,193)(2.84,193)(3.07,193)(2.05,166)(2.28,166)(2.5,166)(2.73,166)(2.96,166)(1.94,140)(2.16,140)(2.84,140)(2.05,114)(2.96,114)(2.16,87)(2.62,87)(2.84,87)}
\ptb{g3}{(2.16,562)(2.39,562)(2.62,562)(2.05,536)(2.73,536)(1.94,510)(2.84,510)(2.96,483)(1.71,457)(3.07,457)(1.37,430)(1.6,430)(1.82,430)(1.48,404)(1.37,378)(1.6,378)(1.82,378)(3.18,378)(1.94,351)(3.3,351)(2.05,325)(3.18,325)(3.07,298)(2.5,272)(2.96,272)(3.18,272)(3.64,272)(2.39,246)(2.62,246)(2.84,246)(2.28,219)(2.5,219)(2.73,219)(2.39,140)(2.62,140)(2.28,114)(2.5,114)(2.73,114)(2.39,87)}
\ptb{g4}{(2.28,536)(2.5,536)(1.94,457)(2.96,430)(1.71,404)(3.07,404)(3.07,351)(2.96,325)(2.16,298)(2.84,298)(2.73,272)}
\ptb{g5}{(2.16,510)(2.39,510)(2.62,510)(2.05,483)(2.73,483)(2.84,457)(1.94,404)(2.05,378)(2.16,351)(2.28,325)(2.39,298)(2.62,298)}
\ptb{g6}{(2.28,483)(2.5,483)(2.16,457)(2.39,457)(2.05,430)(2.28,430)(2.16,404)(2.28,378)(2.96,378)(2.39,351)(2.5,325)(2.73,325)}
\ptb{g7}{(2.62,457)(2.5,430)(2.73,430)(2.39,404)(2.84,404)(2.62,351)(2.84,351)}
\ptb{g8}{(2.62,404)(2.5,378)(2.73,378)}
\end{axis}
%% titles, r values and axis names sit over the frames
\node[ttl] at (239,1374) {Animal};
\node[ttl] at (633,1374) {Brackish};
\node[ttl] at (1016,1374) {Built};
\node[ttl] at (1404,1374) {Engineered};
\node[ttl] at (239,922) {Extreme};
\node[ttl] at (630,922) {Fresh Water};
\node[ttl] at (1032,922) {Marine};
\node[ttl] at (1396,922) {Plant};
\node[ttl] at (249,466) {Soil};
\node[ttl] at (633,468) {All Ecosystems};
\node[rl] at (414,1348) {r = -0.16};
\node[rl] at (799,1348) {r = -0.26};
\node[rl] at (1182,1348) {r = -0.53};
\node[rl] at (1566,1348) {r = -0.23};
\node[rl] at (414,893) {r = -0.19};
\node[rl] at (799,893) {r = -0.21};
\node[rl] at (1182,893) {r = -0.47};
\node[rl] at (1565,893) {r = -0.64};
\node[rl] at (414,439) {r = -0.31};
\node[rl] at (799,439) {r = -0.33};
\node[big,rotate=90] at (14,712) {Metabolic Overlap (MO)};
\node[big,anchor=base] at (836,9) {UBCG - Phylogenetic Distance};
\node[big,anchor=base] at (971,435) {Density};
\node[big,anchor=base] at (863,329) {Low};
\node[big,anchor=base] at (1095,329) {High};
\node[anchor=base,font=\fontsize{8.5}{10}\selectfont,text=black!85] at (1549,498) {2};
\shade[shading=densbar] (858,356) rectangle (1091,402);
\draw[black!55,line width=.4pt] (858,356) rectangle (1091,402);
\end{tikzpicture}
\end{document}
